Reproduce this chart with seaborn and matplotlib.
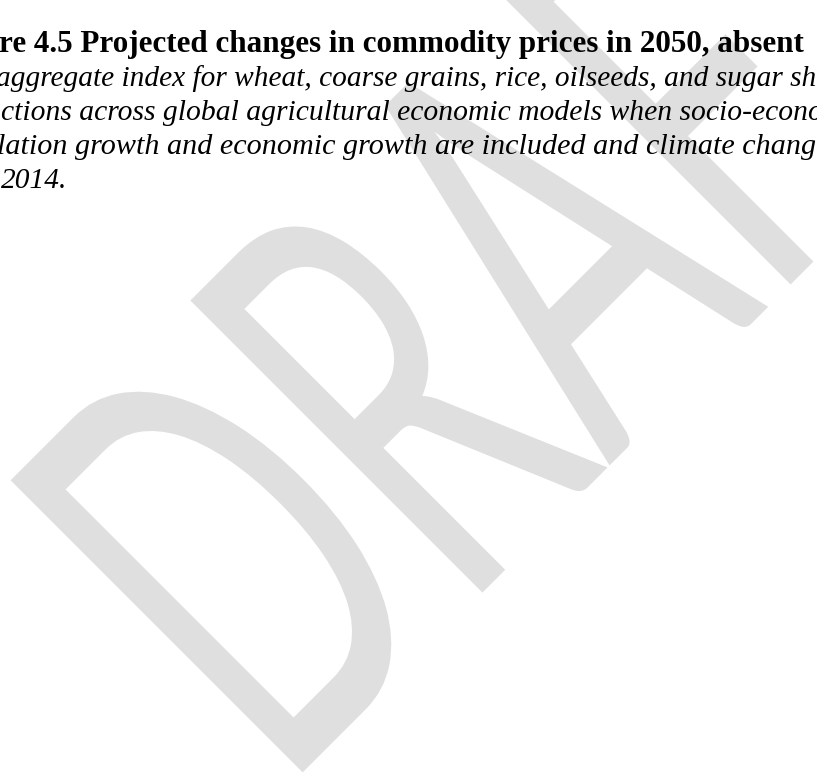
import matplotlib
matplotlib.use("Agg")
import matplotlib.pyplot as plt
import matplotlib.patheffects as pe
from matplotlib.transforms import Affine2D
import seaborn as sns

# caption text of the page crop (lines are cut at both sides of the crop)
title_line = "re 4.5 Projected changes in commodity prices in 2050, absent"
caption_lines = [
    "aggregate index for wheat, coarse grains, rice, oilseeds, and sugar sh",
    "ctions across global agricultural economic models when socio-econo",
    "lation growth and economic growth are included and climate chang",
    "2014.",
]
# left / right edge of each caption line in px (None = keep size of first line)
caption_span = [(-4, 818), (1, 821), (-3, 815), (1, None)]
watermark = "DRAFT"

W, H = 817, 782


class Squeeze(pe.AbstractPathEffect):
    """Squeeze text horizontally in its own frame (stretched watermark look)."""

    def __init__(self, sx):
        super().__init__()
        self.sx = sx

    def draw_path(self, renderer, gc, tpath, affine, rgbFace=None):
        renderer.draw_path(gc, tpath, Affine2D().scale(self.sx, 1.0) + affine, rgbFace)


def px(x, y):
    """pixel position (from top-left) -> figure fraction"""
    return x / W, 1 - y / H


sns.set_theme(style="white")
fig = plt.figure(figsize=(W / 100, H / 100), dpi=100)
ax = fig.add_axes([0, 0, 1, 1])
ax.set_axis_off()

# watermark behind everything
fig.text(*px(281, 794), watermark, rotation=45, rotation_mode="anchor",
         ha="left", va="baseline", fontsize=415, family="Lato",
         color="#dfdfdf", zorder=1, path_effects=[Squeeze(0.58)])

fig.canvas.draw()
r = fig.canvas.get_renderer()


def fit(t, width_px):
    w = t.get_window_extent(r).width
    t.set_fontsize(t.get_fontsize() * width_px / w)


t = fig.text(*px(-1, 52), title_line, ha="left", va="baseline", fontsize=20,
             family="Liberation Serif", weight="bold", color="black", zorder=5)
fit(t, 806)

texts = []
for i, (line, (x0, x1)) in enumerate(zip(caption_lines, caption_span)):
    tt = fig.text(*px(x0, 86 + 34 * i), line, ha="left", va="baseline",
                  fontsize=20, family="Liberation Serif", style="italic",
                  color="black", zorder=5)
    if x1 is not None:
        fit(tt, x1 - x0)
    else:
        tt.set_fontsize(texts[0].get_fontsize())
    texts.append(tt)

fig.savefig("out.png", dpi=100)
